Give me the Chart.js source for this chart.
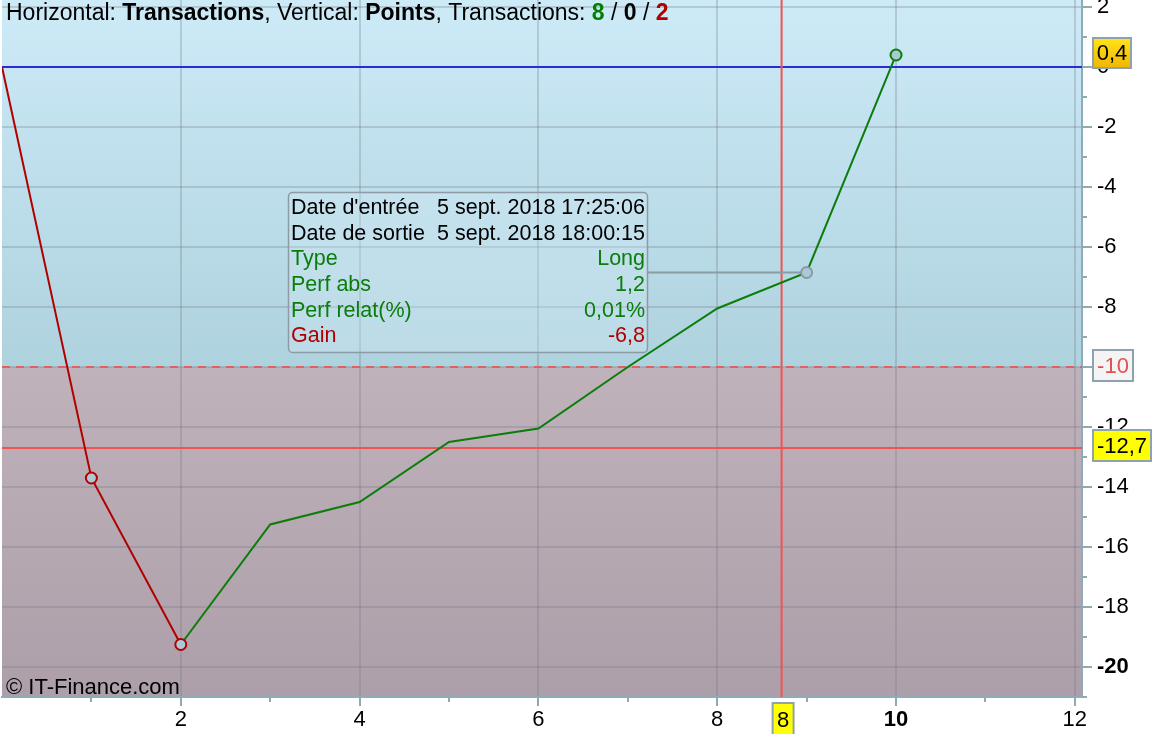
<!DOCTYPE html>
<html>
<head>
<meta charset="utf-8">
<script src="https://cdn.jsdelivr.net/npm/chart.js@4/dist/chart.umd.min.js"></script>
<style>
  body { margin: 0; background: #fff; }
  canvas { display: block; }
</style>
</head>
<body>
<canvas id="myChartGains" width="1158" height="734"></canvas>
<script>
// transactions (x) and cumulated points (y)
const transactions = [0, 1, 2, 3, 4, 5, 6, 7, 8, 9, 10];
const points = [0, -13.7, -19.25, -15.25, -14.5, -12.5, -12.05, -10.0, -8.05, -6.85, 0.4];
const lossSegments = 2;          // first segments drawn in red
const markers = [1, 2, 9, 10];   // points with a circle
const selected = 9;              // point linked to the info box

const xTicks = [2, 4, 6, 8, 10, 12];
const yTicks = [2, 0, -2, -4, -6, -8, -10, -12, -14, -16, -18, -20];

const zeroLevel = 0;
const stopLevel = -10;
const cursorY = -12.7;
const cursorX = 8.72;

const titleParts = [
  ["Horizontal: ", "normal", "#000"], ["Transactions", "bold", "#000"],
  [", Vertical: ", "normal", "#000"], ["Points", "bold", "#000"],
  [", Transactions: ", "normal", "#000"], ["8", "bold", "#008000"],
  [" / ", "normal", "#000"], ["0", "bold", "#000"],
  [" / ", "normal", "#000"], ["2", "bold", "#b00000"]
];
const infoLabels = ["Date d'entrée", "Date de sortie", "Type", "Perf abs", "Perf relat(%)", "Gain"];
const infoValues = ["5 sept. 2018 17:25:06", "5 sept. 2018 18:00:15", "Long", "1,2", "0,01%", "-6,8"];
const infoColors = ["#000", "#000", "#0a7d0a", "#0a7d0a", "#0a7d0a", "#b00000"];

const FONT = "'Liberation Sans', Arial, sans-serif";

const bgPlugin = {
  id: "bg",
  beforeDraw(chart) {
    const { ctx, chartArea: a, scales } = chart;
    const yStop = scales.y.getPixelForValue(stopLevel);
    ctx.save();
    let g = ctx.createLinearGradient(0, a.top, 0, yStop);
    g.addColorStop(0, "#cdeaf7");
    g.addColorStop(1, "#afd2df");
    ctx.fillStyle = g;
    ctx.fillRect(a.left, a.top, a.right - a.left, yStop - a.top);
    g = ctx.createLinearGradient(0, yStop, 0, a.bottom);
    g.addColorStop(0, "#bfb2bb");
    g.addColorStop(1, "#ad9fa9");
    ctx.fillStyle = g;
    ctx.fillRect(a.left, yStop, a.right - a.left, a.bottom - yStop);
    ctx.restore();
  },
  beforeDatasetsDraw(chart) {
    const { ctx, chartArea: a, scales } = chart;
    const y0 = scales.y.getPixelForValue(zeroLevel);
    const yS = scales.y.getPixelForValue(stopLevel);
    const yC = scales.y.getPixelForValue(cursorY);
    const xC = scales.x.getPixelForValue(cursorX);
    ctx.save();
    ctx.lineWidth = 2;
    ctx.strokeStyle = "#2a2ad6";
    ctx.beginPath(); ctx.moveTo(a.left, y0); ctx.lineTo(a.right, y0); ctx.stroke();
    ctx.strokeStyle = "#f25252";
    ctx.beginPath(); ctx.moveTo(a.left, yC); ctx.lineTo(a.right, yC); ctx.stroke();
    ctx.beginPath(); ctx.moveTo(xC, a.top); ctx.lineTo(xC, a.bottom); ctx.stroke();
    ctx.strokeStyle = "#e26060";
    ctx.setLineDash([8, 6]);
    ctx.beginPath(); ctx.moveTo(a.left, yS); ctx.lineTo(a.right, yS); ctx.stroke();
    ctx.setLineDash([]);
    // link from the info box to the selected point
    const p = chart.getDatasetMeta(0).data[selected];
    ctx.strokeStyle = "#8a9ba4";
    ctx.beginPath(); ctx.moveTo(648, p.y); ctx.lineTo(p.x, p.y); ctx.stroke();
    ctx.restore();
  },
  afterDraw(chart) {
    const { ctx, chartArea: a, scales } = chart;
    ctx.save();
    // tick marks
    ctx.strokeStyle = "#8fa9b5";
    ctx.lineWidth = 2;
    for (let v = 1; v <= 12; v++) {
      const x = Math.round(scales.x.getPixelForValue(v));
      ctx.beginPath(); ctx.moveTo(x, a.bottom); ctx.lineTo(x, a.bottom + (v % 2 ? 5 : 9)); ctx.stroke();
    }
    for (let v = -21; v <= 2; v++) {
      const y = Math.round(scales.y.getPixelForValue(v));
      ctx.beginPath(); ctx.moveTo(a.right, y); ctx.lineTo(a.right + (v % 2 ? 5 : 10), y); ctx.stroke();
    }
    // title
    let x = 6;
    ctx.textBaseline = "alphabetic";
    titleParts.forEach(([t, w, c]) => {
      ctx.font = w + " 23px " + FONT;
      ctx.fillStyle = c;
      ctx.fillText(t, x, 20);
      x += ctx.measureText(t).width;
    });
    // copyright
    ctx.font = "22px " + FONT;
    ctx.fillStyle = "#000";
    ctx.fillText("© IT-Finance.com", 6, 694);

    // info box
    ctx.beginPath();
    ctx.roundRect(288.5, 192.5, 359, 160, 4);
    ctx.fillStyle = "rgba(215,240,250,0.3)";
    ctx.fill();
    ctx.strokeStyle = "#8c9ba4";
    ctx.lineWidth = 1.5;
    ctx.stroke();
    ctx.textBaseline = "middle";
    ctx.font = "21.5px " + FONT;
    infoLabels.forEach((t, i) => {
      const y = 208 + i * 25.7;
      ctx.fillStyle = infoColors[i];
      ctx.textAlign = "left";
      ctx.fillText(t, 291, y);
      ctx.textAlign = "right";
      ctx.fillText(infoValues[i], 645, y);
    });

    // value boxes on the axes
    const box = (bx, by, w, h, fill, color, text) => {
      ctx.fillStyle = fill;
      ctx.fillRect(bx, by, w, h);
      ctx.strokeStyle = "#8ea3ad";
      ctx.lineWidth = 2;
      ctx.strokeRect(bx, by, w, h);
      ctx.fillStyle = color;
      ctx.textAlign = "center";
      ctx.textBaseline = "middle";
      ctx.font = "22px " + FONT;
      ctx.fillText(text, bx + w / 2, by + h / 2 + 1);
    };
    const last = points[points.length - 1];
    const yl = scales.y.getPixelForValue(last);
    const g = ctx.createLinearGradient(0, yl - 16, 0, yl + 14);
    g.addColorStop(0, "#ffe21a");
    g.addColorStop(1, "#f0b400");
    box(1093, yl - 17, 38, 30, g, "#000", String(last).replace(".", ","));
    const ys = scales.y.getPixelForValue(stopLevel);
    box(1093, ys - 17, 40, 31, "#f4f4f4", "#e05252", String(stopLevel));
    const yc = scales.y.getPixelForValue(cursorY);
    box(1093, yc - 18, 58, 31, "#ffff00", "#000", String(cursorY).replace(".", ","));
    const xc = scales.x.getPixelForValue(cursorX);
    box(xc - 9, a.bottom + 6, 21, 34, "#ffff00", "#000", String(Math.floor(cursorX)));
    ctx.restore();
  }
};

const data = transactions.map((t, i) => ({ x: t, y: points[i] }));

const chart = new Chart(document.getElementById("myChartGains").getContext("2d"), {
  type: "line",
  data: {
    datasets: [{
      label: "Points",
      data: data,
      borderWidth: 2,
      tension: 0,
      borderColor: "#0a7d0a",
      segment: {
        borderColor: c => c.p0DataIndex < lossSegments ? "#b00000" : "#0a7d0a"
      },
      pointRadius: c => markers.includes(c.dataIndex) ? 5.5 : 0,
      pointBorderWidth: 2,
      pointBackgroundColor: "#a9c9d6",
      pointBorderColor: c => c.dataIndex <= lossSegments ? "#b00000" : (c.dataIndex === selected ? "#8a9aa3" : "#0a7d0a")
    }]
  },
  options: {
    responsive: false,
    animation: false,
    layout: { autoPadding: false, padding: { left: 2, top: 0, right: 0, bottom: 0 } },
    plugins: { legend: { display: false }, tooltip: { enabled: false } },
    scales: {
      x: {
        type: "linear",
        min: 0,
        max: 12.08,
        afterFit: s => { s.height = 37; s.paddingLeft = 0; s.paddingRight = 0; },
        afterBuildTicks: s => { s.ticks = xTicks.map(v => ({ value: v })); },
        grid: { color: "rgba(110,120,130,0.28)", lineWidth: 2, drawTicks: false },
        border: { color: "#8fabb8", width: 2 },
        ticks: {
          padding: 10,
          color: "#000",
          font: c => ({ family: FONT, size: 22, weight: c.tick && c.tick.value === 10 ? "bold" : "normal" })
        }
      },
      y: {
        position: "right",
        min: -21,
        max: 2.233,
        afterFit: s => { s.width = 76; s.paddingTop = 0; s.paddingBottom = 0; },
        afterBuildTicks: s => { s.ticks = yTicks.map(v => ({ value: v })); },
        grid: { color: "rgba(110,120,130,0.28)", lineWidth: 2, drawTicks: false },
        border: { color: "#8fabb8", width: 2 },
        ticks: {
          padding: 15,
          color: "#000",
          font: c => ({ family: FONT, size: 22, weight: c.tick && c.tick.value === -20 ? "bold" : "normal" })
        }
      }
    }
  },
  plugins: [bgPlugin]
});
</script>
</body>
</html>
